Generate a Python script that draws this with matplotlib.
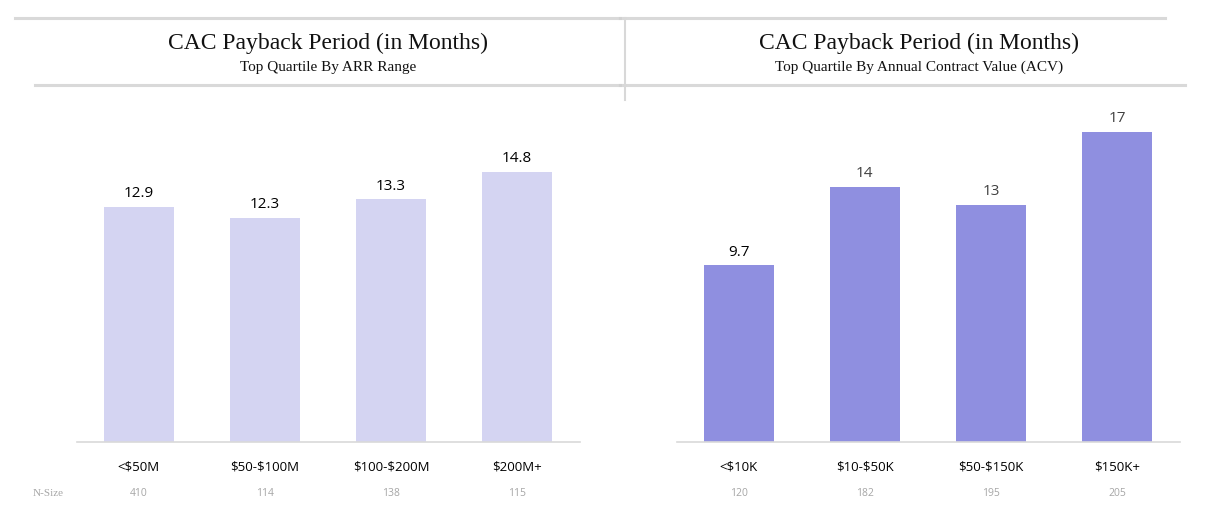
import matplotlib.pyplot as plt
from matplotlib.lines import Line2D

plt.rcParams['text.parse_math'] = False
plt.rcParams['font.family'] = ['Open Sans', 'DejaVu Sans']

# data
arr_ranges = ['<$50M', '$50-$100M', '$100-$200M', '$200M+']
arr_payback = [12.9, 12.3, 13.3, 14.8]
arr_nsize = [410, 114, 138, 115]

acv_ranges = ['<$10K', '$10-$50K', '$50-$150K', '$150K+']
acv_payback = [9.7, 14, 13, 17]
acv_nsize = [120, 182, 195, 205]

title = 'CAC Payback Period (in Months)'
subtitles = ['Top Quartile By ARR Range', 'Top Quartile By Annual Contract Value (ACV)']

W, H = 1219, 521
fig = plt.figure(figsize=(W / 100, H / 100), dpi=100)
fig.patch.set_facecolor('white')

serif = ['Liberation Serif', 'DejaVu Serif']


def fx(px):
  return px / W


def fy(py):
  return 1 - py / H


panels = [
  (arr_ranges, arr_payback, arr_nsize, '#d4d4f2', ['black'] * 4, 77, 328),
  (acv_ranges, acv_payback, acv_nsize, '#8f8fe0', ['black', '#404040', '#404040', '#404040'], 677, 919),
]

for i, (cats, vals, ns, color, lab_colors, x0, cx) in enumerate(panels):
  ax = fig.add_axes([fx(x0), fy(442), fx(503), fy(100) - fy(442)])
  xs = range(len(cats))
  bars = ax.bar(xs, vals, width=0.556, color=color, zorder=2)
  for b, v, c in zip(bars, vals, lab_colors):
    ax.text(b.get_x() + b.get_width() / 2, v + 0.3, f'{v:g}', ha='center', va='bottom',
            fontsize=11, color=c)
  ax.set_xlim(-0.49, 3.5)
  ax.set_ylim(0, 18.74)
  for s in ['top', 'right', 'left']:
    ax.spines[s].set_visible(False)
  ax.spines['bottom'].set_color('#d9d9d9')
  ax.spines['bottom'].set_linewidth(1.2)
  ax.set_yticks([])
  ax.set_xticks(list(xs))
  ax.set_xticklabels(cats, fontsize=9.5, color='black')
  ax.tick_params(axis='x', length=0, pad=13)
  for x, n in zip(xs, ns):
    ax.annotate(str(n), xy=(x, 0), xycoords=('data', 'axes fraction'),
                xytext=(0, -52), textcoords='offset pixels', ha='center', va='center',
                fontsize=7.5, color='#a6a6a6')

  fig.text(fx(cx), fy(43), title, ha='center', va='center', fontsize=17, family=serif, color='#111111')
  fig.text(fx(cx), fy(67), subtitles[i], ha='center', va='center', fontsize=11, family=serif, color='#111111')

fig.text(fx(48), fy(494), 'N-Size', ha='center', va='center', fontsize=8, family=serif, color='#a6a6a6')

# header rules
rules = [
  ((15, 620), (18, 18)), ((35, 620), (85, 85)),
  ((620, 1165), (18, 18)), ((620, 1185), (85, 85)),
]
for xsr, ysr in rules:
  fig.add_artist(Line2D([fx(xsr[0]), fx(xsr[1])], [fy(ysr[0]), fy(ysr[1])],
                        color='#d0d0d0', lw=2.2, alpha=0.8))
fig.add_artist(Line2D([fx(625), fx(625)], [fy(18), fy(100)], color='#d8d8d8', lw=1.5))

fig.savefig('out.png', dpi=100)
